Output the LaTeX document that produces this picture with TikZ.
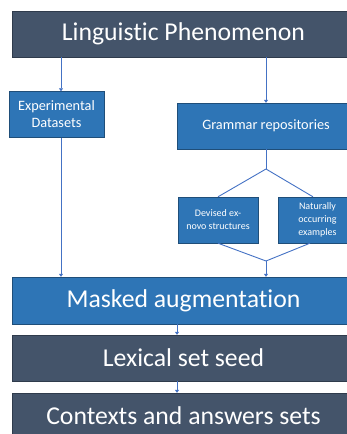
\documentclass[tikz,border=0pt]{standalone}
\usepackage{fontspec}
\setmainfont{Carlito}[Ligatures=NoCommon]
\usetikzlibrary{arrows.meta}
\definecolor{slate}{HTML}{44546A}
\definecolor{slateedge}{HTML}{2F3B4C}
\definecolor{boxblue}{HTML}{2E75B6}
\definecolor{blueedge}{HTML}{1F4E79}
\definecolor{linkblue}{HTML}{4472C4}
\begin{document}
\begin{tikzpicture}[
    x=1pt, y=-1pt,
    every node/.style={align=center, text=white, inner sep=0pt},
    wide dark/.style={draw=slateedge, fill=slate, minimum width=343pt, minimum height=46pt, font=\fontsize{25.7}{30}\selectfont},
    wide blue/.style={draw=blueedge, fill=boxblue, minimum width=343pt, minimum height=47pt, font=\fontsize{25.7}{30}\selectfont},
    small blue/.style={draw=blueedge, fill=boxblue, minimum height=46pt, font=\fontsize{14.3}{17}\selectfont},
    link/.style={draw=linkblue, line width=0.9pt},
    link arrow/.style={link, -{Triangle[width=4pt,length=3pt]}},
    ]
\useasboundingbox (0,0) rectangle (347,434);
\clip (0,0) rectangle (347,434);
\node[wide dark] (phenomenon) at (183.5,34) {Linguistic Phenomenon};
\node[small blue, minimum width=95pt] (datasets) at (56.5,114.5) {Experimental\\Datasets};
\node[small blue, minimum width=178pt] (grammar) at (266,126) {Grammar repositories};
\node[small blue, minimum width=80pt, font=\fontsize{10}{13}\selectfont] (devised) at (218,220) {Devised ex-\\novo structures};
\node[small blue, minimum width=79pt, font=\fontsize{10}{13}\selectfont] (natural) at (317.5,220) {Naturally\\occurring\\examples};
\node[wide blue] (masked) at (183.5,300.5) {Masked augmentation};
\node[wide dark] (seed) at (183.5,358) {Lexical set seed};
\node[wide dark] (contexts) at (183.5,416) {Contexts and answers sets};
\coordinate (split) at (266,169);
\coordinate (join) at (266,261);
\draw[link arrow] ([xshift=4.5pt]datasets.north |- phenomenon.south) -- ([xshift=4.5pt]datasets.north);
\draw[link arrow] (grammar.north |- phenomenon.south) -- (grammar.north);
\draw[link arrow] ([xshift=4.5pt]datasets.south) -- ([xshift=4.5pt]datasets.south |- masked.north);
\draw[link] (grammar.south) -- (split);
\draw[link] (split) -- (devised.north);
\draw[link] (split) -- ([xshift=-4.5pt]natural.north);
\draw[link] (devised.south) -- (join);
\draw[link] ([xshift=-7.5pt]natural.south) -- (join);
\draw[link arrow] (join) -- (join |- masked.north);
\draw[link arrow] ([xshift=-6.5pt]masked.south) -- ([xshift=-6.5pt]seed.north);
\draw[link arrow] ([xshift=-6.5pt]seed.south) -- ([xshift=-6.5pt]contexts.north);
\end{tikzpicture}
\end{document}
